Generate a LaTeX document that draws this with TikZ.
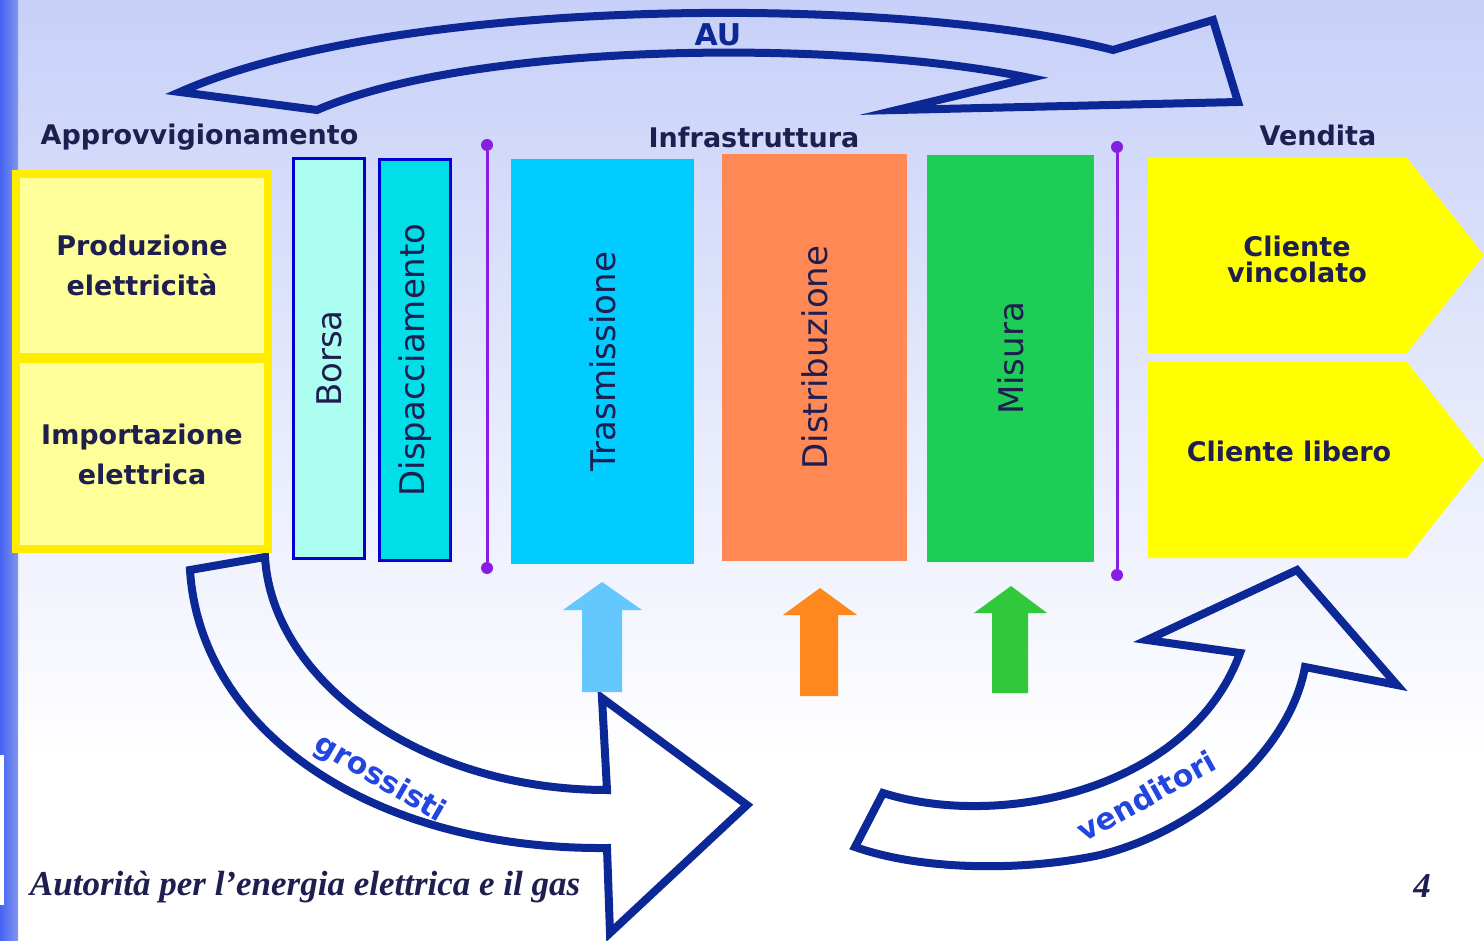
\documentclass[tikz,border=0pt]{standalone}
\usepackage{fontspec}
\setmainfont{DejaVu Sans}
\newfontfamily\footerfont{Liberation Serif}
\usepackage{tikz}
\usepackage{xcolor}
\definecolor{navytext}{RGB}{30,30,80}
\definecolor{flowblue}{RGB}{12,40,150}
\definecolor{labelblue}{RGB}{35,70,225}
\definecolor{bgtop}{RGB}{199,208,248}
\definecolor{bgmid}{RGB}{222,228,250}
\definecolor{stripedark}{RGB}{70,100,242}
\definecolor{stripelight}{RGB}{130,150,240}
\definecolor{sourceborder}{RGB}{255,236,0}
\definecolor{sourcefill}{RGB}{255,255,153}
\definecolor{marketborder}{RGB}{0,0,210}
\definecolor{borsafill}{RGB}{172,255,240}
\definecolor{dispfill}{RGB}{0,222,232}
\definecolor{trasfill}{RGB}{0,204,255}
\definecolor{distfill}{RGB}{255,136,85}
\definecolor{misfill}{RGB}{30,205,85}
\definecolor{salefill}{RGB}{255,255,0}
\definecolor{dividercolor}{RGB}{135,30,225}
\definecolor{trasarrow}{RGB}{100,200,255}
\definecolor{distarrow}{RGB}{255,136,30}
\definecolor{misarrow}{RGB}{50,200,60}
\colorlet{footercolor}{navytext}
\usetikzlibrary{
  positioning,
}
\tikzstyle{basicblock}=[inner sep=0pt, outer sep=0pt, text=navytext]
\tikzstyle{headline}=[basicblock, font=\bfseries\fontsize{13.5}{16}\selectfont]
\tikzstyle{sourceblock}=[basicblock, draw=sourceborder, fill=sourcefill, line width=4pt, minimum width=126pt, align=center, font=\bfseries\fontsize{13.5}{20}\selectfont]
\tikzstyle{verticalblock}=[basicblock, rotate=90, font=\fontsize{17}{20}\selectfont]
\tikzstyle{marketblock}=[verticalblock, draw=marketborder, line width=1.5pt, minimum width=200pt, minimum height=35.5pt]
\tikzstyle{gridblock}=[verticalblock, minimum width=203.5pt]
\tikzstyle{saleblock}=[basicblock, align=center, font=\bfseries\fontsize{13.5}{13}\selectfont]
\tikzstyle{divider}=[draw=dividercolor, line width=1.5pt]
\tikzstyle{dividerend}=[circle, fill=dividercolor, inner sep=0pt, minimum size=6pt]
\tikzstyle{flowarrow}=[draw=flowblue, line width=4pt, line join=miter]
\tikzstyle{flowlabel}=[basicblock, text=labelblue, font=\bfseries\fontsize{15}{18}\selectfont]
\tikzstyle{footerline}=[basicblock, text=footercolor, font=\footerfont\bfseries\itshape\fontsize{17.5}{20}\selectfont]

\begin{document}
\begin{tikzpicture}[x=0.5pt, y=-0.5pt]
	\useasboundingbox (0,0) rectangle (1484,941);
	% background
	\fill[white] (0,0) rectangle (1484,941);
	\shade[top color=bgtop, middle color=bgmid, bottom color=white] (0,0) rectangle (1484,760);
	\shade[left color=stripedark, right color=stripelight] (0,0) rectangle (18,941);
	\fill[white] (0,755) rectangle (4,905);
	% headings
	\node (supplyhead) [headline] at (199.5,137) {Approvvigionamento};
	\node (gridhead) [headline] at (754,137) {Infrastruttura};
	\node (salehead) [headline] at (1318,135) {Vendita};
	% big flow arrows
	\draw [flowarrow] (180,92) .. controls (400,-5) and (900,-5) .. (1113,50) -- (1213,20) -- (1238,102) -- (897,110) -- (1030,78)
		.. controls (850,40) and (480,40) .. (317,110) -- cycle;
	\node (au) [flowlabel, text=flowblue] at (718,35) {AU};
	\draw [flowarrow] (190,570) .. controls (200,730) and (370,850) .. (607,848) -- (610,933) -- (747,805) -- (602,698) -- (607,790)
		.. controls (420,790) and (272,680) .. (265,557) -- cycle;
	\node (wholesalers) [flowlabel, rotate=-30] at (380,779) {grossisti};
	\draw [flowarrow] (883,793) .. controls (1000,830) and (1190,790) .. (1240,653) -- (1147,640) -- (1297,570) -- (1397,685) -- (1305,667)
		.. controls (1290,750) and (1200,830) .. (1100,855) .. controls (1020,872) and (920,870) .. (855,847) -- cycle;
	\node (retailers) [flowlabel, rotate=29] at (1146,796) {venditori};
	% supply
	\node (production) [sourceblock, minimum height=91.5pt] at (142,265.5) {Produzione\\elettricità};
	\node (import) [sourceblock, minimum height=95pt, below=1pt of production] {Importazione\\elettrica};
	\node (borsa) [marketblock, fill=borsafill] at (329,358.5) {Borsa};
	\path (borsa) + (86,1.5) node (dispatch) [marketblock, fill=dispfill] {Dispacciamento};
	% dividers
	\node (leftdivtop) [dividerend] at (487,145) {};
	\node (leftdivbot) [dividerend] at (487,568) {};
	\draw [divider] (leftdivtop) -- (leftdivbot);
	\node (rightdivtop) [dividerend] at (1117,147) {};
	\node (rightdivbot) [dividerend] at (1117,575) {};
	\draw [divider] (rightdivtop) -- (rightdivbot);
	% infrastructure
	\node (transmission) [gridblock, fill=trasfill, minimum width=202.5pt, minimum height=91.5pt] at (602.5,361.5) {Trasmissione};
	\path (transmission) + (212,-4) node (distribution) [gridblock, fill=distfill, minimum height=92.5pt] {Distribuzione};
	\path (distribution) + (196,1) node (metering) [gridblock, fill=misfill, minimum height=83.5pt] {Misura};
	\fill [trasarrow] (582,692) -- (582,610) -- (563,610) -- (602,582) -- (642,610) -- (622,610) -- (622,692) -- cycle;
	\fill [distarrow] (800,696) -- (800,615) -- (783,615) -- (820,588) -- (857,615) -- (838,615) -- (838,696) -- cycle;
	\fill [misarrow] (992,693) -- (992,613) -- (974,613) -- (1011,586) -- (1047,613) -- (1028,613) -- (1028,693) -- cycle;
	% sales
	\fill [salefill] (1148,158) -- (1407,158) -- (1484,255) -- (1407,353) -- (1148,353) -- cycle;
	\fill [salefill] (1148,362) -- (1407,362) -- (1484,460) -- (1407,558) -- (1148,558) -- cycle;
	\node (bound) [saleblock] at (1297,259) {Cliente\\vincolato};
	\node (free) [saleblock] at (1289,451) {Cliente libero};
	% footer
	\node (footer) [footerline, anchor=west] at (30,887) {Autorità per l’energia elettrica e il gas};
	\node (pagenum) [footerline] at (1422,886) {4};
\end{tikzpicture}
\end{document}
